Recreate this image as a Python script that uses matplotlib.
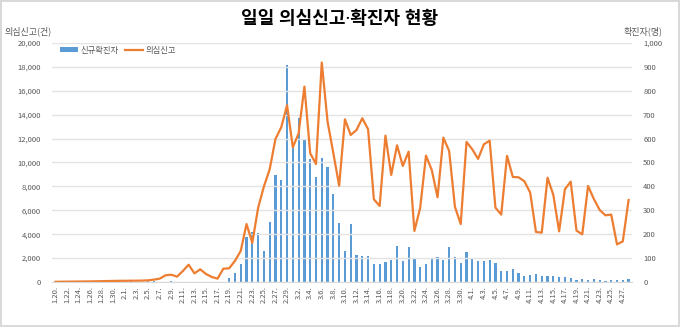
import matplotlib
matplotlib.use('Agg')
import matplotlib.pyplot as plt
from matplotlib.ticker import FuncFormatter, MultipleLocator
import pandas as pd

plt.rcParams['font.family'] = ['Noto Sans CJK KR', 'DejaVu Sans']

# 2020.1.20 ~ 4.28, daily
dates = pd.date_range('2020-01-20', '2020-04-28', freq='D')
date_labels = [f'{d.month}.{d.day}.' for d in dates]

# 의심신고 (left axis, 건)
suspected = [
    20, 25, 30, 35, 40, 45, 50, 60, 70, 80, 90, 100,                    # Jan 20-31
    100, 110, 110, 120, 140, 200, 280, 560, 610, 450, 920, 1450, 725,   # Feb 1-13
    1060, 670, 420, 280, 1115, 1145, 1770, 2600, 4850, 3280, 6200,      # Feb 14-24
    7990, 9430, 11970, 12950, 14790,                                    # Feb 25-29
    11270, 12440, 16350, 10770, 9880, 18360, 13420, 10770, 8060, 13615, # Mar 1-10
    12300, 12720, 13700, 12780, 6920, 6360, 12250, 8960, 11440, 9710,   # Mar 11-20
    10910, 4270, 6200, 10575, 9370, 7090, 12080, 10965, 6300, 4850,     # Mar 21-30
    11720,                                                              # Mar 31
    11100, 10300, 11520, 11830, 6220, 5640, 10550, 8790, 8760, 8425,    # Apr 1-10
    7480, 4185, 4130, 8730, 7280, 4240, 7760, 8400, 4300, 3990,         # Apr 11-20
    8035, 6950, 6030, 5580, 5640, 3150, 3400, 6860,                     # Apr 21-28
]

# 신규확진자 (right axis, 명)
confirmed = [
    1, 0, 0, 0, 1, 0, 1, 1, 0, 0, 2, 5,                                 # Jan 20-31
    1, 3, 0, 1, 3, 4, 1, 0, 3, 1, 1, 0, 0, 0, 0, 1, 1, 1,               # Feb 1-18
    16, 36, 75, 190, 210, 207, 130, 253, 449, 427, 909,                 # Feb 19-29
    576, 686, 600, 516, 438, 518, 483, 367, 248, 131,                   # Mar 1-10
    242, 114, 110, 107, 76, 74, 84, 93, 152, 87,                        # Mar 11-20
    147, 98, 64, 76, 100, 104, 91, 146, 105, 78, 125,                   # Mar 21-31
    101, 89, 86, 94, 81, 47, 47, 53, 39, 27,                            # Apr 1-10
    30, 32, 25, 27, 27, 22, 22, 18, 8, 13,                              # Apr 11-20
    9, 11, 8, 6, 10, 10, 10, 14,                                        # Apr 21-28
]

BLUE = '#5B9BD5'
ORANGE = '#ED7D31'
TXT = '#595959'

x = list(range(len(dates)))

fig = plt.figure(figsize=(6.8, 3.27), dpi=100)
fig.patch.set_edgecolor('#D9D9D9')
fig.patch.set_linewidth(1.5)

ax = fig.add_axes([0.0765, 0.1376, 0.853, 0.731])
ax2 = ax.twinx()
ax.set_zorder(ax2.get_zorder() + 1)
ax.patch.set_visible(False)

bars = ax2.bar(x, confirmed, width=0.38, color=BLUE, label='신규확진자')
line, = ax.plot(x, suspected, color=ORANGE, lw=1.6, label='의심신고')

ax.set_xlim(-0.6, len(x) - 0.4)
ax.set_ylim(0, 20000)
ax2.set_ylim(0, 1000)
ax.yaxis.set_major_locator(MultipleLocator(2000))
ax2.yaxis.set_major_locator(MultipleLocator(100))
ax.yaxis.set_major_formatter(FuncFormatter(lambda v, p: f'{int(v):,}'))
ax2.yaxis.set_major_formatter(FuncFormatter(lambda v, p: f'{int(v):,}'))

ax.grid(axis='y', color='#E3E3E3', lw=1)
ax.set_axisbelow(True)

ax.set_xticks(x[::2])
ax.set_xticklabels(date_labels[::2], rotation=90, fontsize=5.5, color=TXT)

for a in (ax, ax2):
    for s in a.spines.values():
        s.set_visible(False)
    a.tick_params(length=0, labelsize=5.5, labelcolor=TXT)
ax.spines['bottom'].set_visible(True)
ax.spines['bottom'].set_color('#D9D9D9')
ax.tick_params(axis='y', pad=8)
ax2.tick_params(axis='y', pad=8)
ax.tick_params(axis='x', pad=3)

fig.text(0.5, 0.942, '일일 의심신고·확진자 현황', ha='center', va='center',
         fontsize=13, fontweight='bold', color='#000000',
         family=['Noto Sans', 'Noto Sans CJK KR'])
fig.text(0.007, 0.905, '의심신고(건)', ha='left', va='center', fontsize=6.5, color=TXT)
fig.text(0.975, 0.905, '확진자(명)', ha='right', va='center', fontsize=6.5, color=TXT)

ax.legend([bars, line], ['신규확진자', '의심신고'], loc='upper left',
          bbox_to_anchor=(0.0, 1.02), ncol=2, frameon=False, fontsize=6,
          handlelength=2.2, handleheight=0.5, columnspacing=0.8,
          handletextpad=0.3, labelcolor=TXT)

fig.savefig('out.png', dpi=100)
